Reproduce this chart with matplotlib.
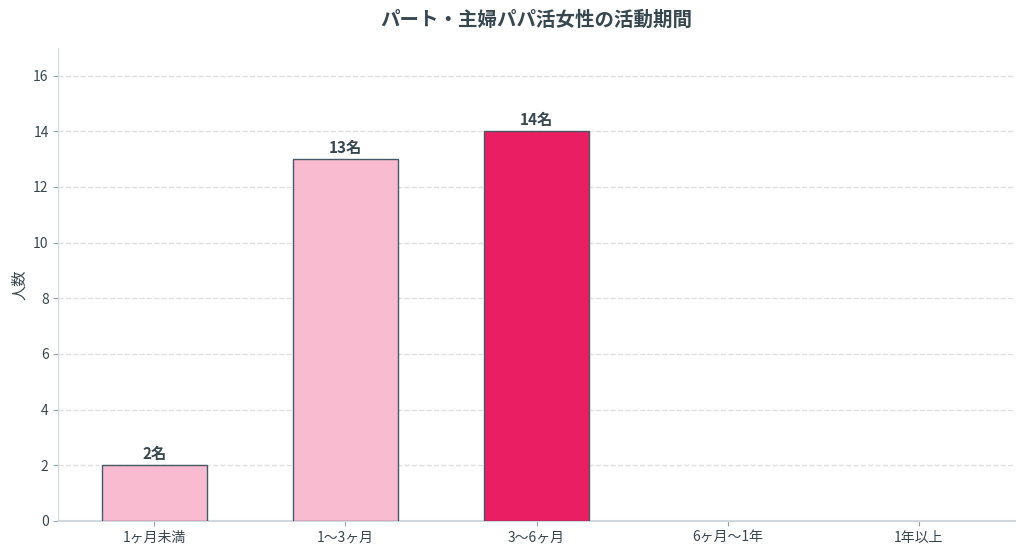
import matplotlib
matplotlib.use("Agg")
import matplotlib.pyplot as plt
import numpy as np

plt.rcParams["font.family"] = ["Noto Sans CJK JP", "DejaVu Sans"]

# data
periods = ["1ヶ月未満", "1〜3ヶ月", "3〜6ヶ月", "6ヶ月〜1年", "1年以上"]
counts = [2, 13, 14, 0, 0]
bar_colors = ["#F8BBD0", "#F8BBD0", "#E91E63", "#F8BBD0", "#F8BBD0"]
yticks = [0, 2, 4, 6, 8, 10, 12, 14, 16]

TEXT = "#37474F"

fig = plt.figure(figsize=(10.24, 5.56), dpi=100)
ax = fig.add_axes([0.057, 0.063, 0.934, 0.851])

x = np.arange(len(periods))
edges = ["#455A64" if c > 0 else "#CFD8DC" for c in counts]
bars = ax.bar(x, counts, width=0.55, color=bar_colors, edgecolor=edges, linewidth=1.0, zorder=3)

for bar, c in zip(bars, counts):
    if c > 0:
        ax.text(bar.get_x() + bar.get_width() / 2, c + 0.12, f"{c}名",
                ha="center", va="bottom", fontsize=11, fontweight="bold", color=TEXT)

ax.set_ylim(0, 17)
ax.set_yticks(yticks)
ax.set_xticks(x)
ax.set_xticklabels(periods, fontsize=10, color=TEXT)
ax.tick_params(axis="y", labelsize=10, colors=TEXT)
ax.tick_params(axis="x", colors="#90A4AE", labelcolor=TEXT)
ax.tick_params(axis="y", colors="#90A4AE", labelcolor=TEXT)
ax.set_ylabel("人数", fontsize=11, color=TEXT)
ax.set_title("パート・主婦パパ活女性の活動期間", fontsize=14, fontweight="bold", color=TEXT, pad=16)

ax.grid(axis="y", linestyle="--", color="#E0E0E0", linewidth=1.0, zorder=0)
ax.set_axisbelow(True)
for s in ["top", "right"]:
    ax.spines[s].set_visible(False)
for s in ["left", "bottom"]:
    ax.spines[s].set_color("#CFD8DC")
ax.spines["bottom"].set_linewidth(1.5)

fig.savefig("out.png", dpi=100, facecolor="white")
